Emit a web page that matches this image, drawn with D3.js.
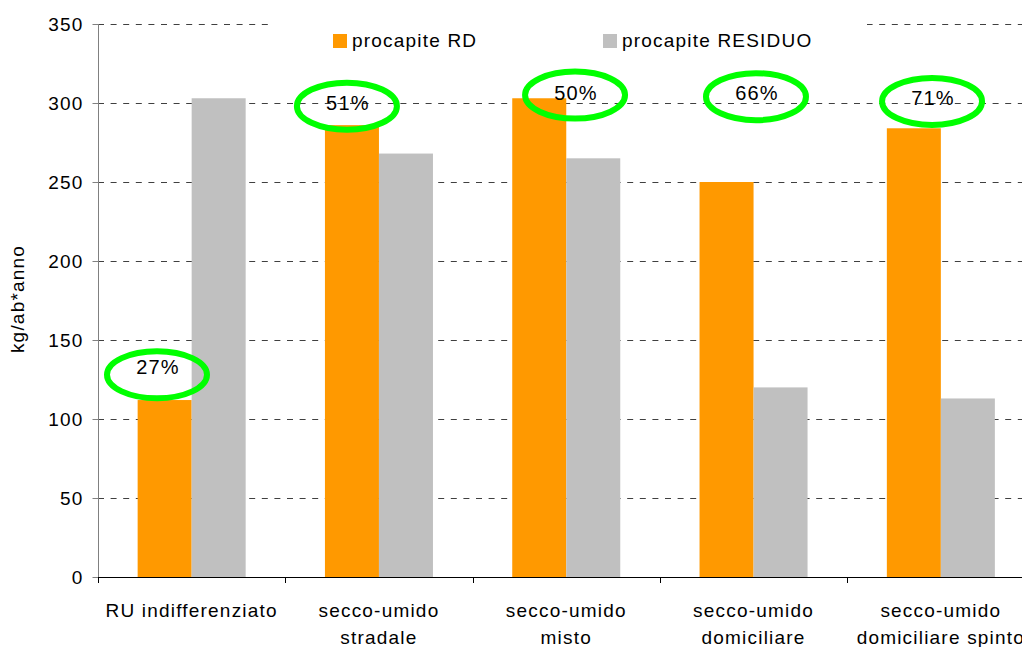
<!DOCTYPE html>
<html>
<head>
<meta charset="utf-8">
<script src="https://cdn.jsdelivr.net/npm/d3@7"></script>
<style>
  html, body { margin: 0; padding: 0; background: #ffffff; }
  svg { display: block; }
  text { font-family: "Liberation Sans", Arial, sans-serif; fill: #000; }
</style>
</head>
<body>
<svg id="chart" width="1022" height="647"></svg>
<script>
// ---- data ----
const categories = ["RU indifferenziato", "secco-umido stradale", "secco-umido misto", "secco-umido domiciliare", "secco-umido domiciliare spinto"];
const categoryLines = [["RU indifferenziato"], ["secco-umido", "stradale"], ["secco-umido", "misto"], ["secco-umido", "domiciliare"], ["secco-umido", "domiciliare spinto"]];
const seriesNames = ["procapite RD", "procapite RESIDUO"];
const rdValues = [112, 286, 303, 250, 284];
const residuoValues = [303, 268, 265, 120, 113];
const yTicks = [0, 50, 100, 150, 200, 250, 300, 350];
const pctLabels = ["27%", "51%", "50%", "66%", "71%"];
// annotation anchors (ellipse centre: fraction across the category band, value on y scale)
const pctAnchorFrac = [0.315, 0.329, 0.547, 0.513, 0.453];
const pctAnchorValue = [128, 298, 305, 304, 301];
const pctTextValue = [128.5, 295.6, 301.9, 301.9, 298.7];

const colors = ["#FF9900", "#C0C0C0"];

(function () {
// ---- layout ----
const svg = d3.select("#chart");
const plotLeft = 98, plotRight = 1034.5, plotTop = 24, plotBottom = 577;
const fontCss = "19px";
const ls = "1.2px";

const x0 = d3.scaleBand().domain(categories).range([plotLeft, plotRight]).paddingInner(0).paddingOuter(0);
const x1 = d3.scaleBand().domain(seriesNames).range([0, x0.bandwidth()]).paddingInner(0).paddingOuter(0.734);
const y = d3.scaleLinear().domain([0, 350]).range([plotBottom, plotTop]);

// gridlines
svg.append("g").selectAll("line")
  .data(yTicks.filter(d => d > 0))
  .join("line")
  .attr("x1", plotLeft).attr("x2", 1022)
  .attr("y1", d => Math.round(y(d)) + 0.5).attr("y2", d => Math.round(y(d)) + 0.5)
  .attr("stroke", "#404040").attr("stroke-width", 1)
  .attr("stroke-dasharray", "6,6.6");

// bars
const rows = categories.map((c, i) => ({cat: c, vals: [rdValues[i], residuoValues[i]]}));
const groups = svg.append("g").selectAll("g")
  .data(rows).join("g")
  .attr("transform", d => `translate(${x0(d.cat)},0)`);
groups.selectAll("rect")
  .data(d => d.vals.map((v, j) => ({s: seriesNames[j], v, j})))
  .join("rect")
  .attr("x", d => x1(d.s))
  .attr("width", x1.bandwidth())
  .attr("y", d => y(d.v))
  .attr("height", d => y(0) - y(d.v))
  .attr("fill", d => colors[d.j]);

// y axis
const yAxis = d3.axisLeft(y).tickValues(yTicks).tickSize(6).tickPadding(9).tickFormat(d3.format("d"));
const gy = svg.append("g").attr("transform", `translate(${plotLeft + 0.5},0)`).call(yAxis);
gy.select(".domain").attr("stroke", "#808080").attr("d", `M0,${plotTop}V${plotBottom}`);
gy.selectAll(".tick line").attr("stroke", "#808080");
gy.selectAll(".tick text").attr("font-size", fontCss).attr("font-family", "Liberation Sans, Arial, sans-serif")
  .style("letter-spacing", ls).attr("fill", "#000");

// x axis line + ticks at band boundaries
svg.append("line").attr("x1", plotLeft).attr("x2", 1022)
  .attr("y1", plotBottom + 0.5).attr("y2", plotBottom + 0.5).attr("stroke", "#000");
svg.append("g").selectAll("line")
  .data(categories)
  .join("line")
  .attr("x1", d => Math.round(x0(d)) + 0.5).attr("x2", d => Math.round(x0(d)) + 0.5)
  .attr("y1", plotBottom).attr("y2", plotBottom + 6)
  .attr("stroke", "#000");

// category labels
const catG = svg.append("g");
categories.forEach((c, i) => {
  const t = catG.append("text")
    .attr("text-anchor", "middle")
    .attr("font-size", fontCss)
    .style("letter-spacing", ls);
  categoryLines[i].forEach((line, k) => {
    t.append("tspan")
      .attr("x", x0(c) + x0.bandwidth() / 2)
      .attr("y", 617 + k * 27)
      .text(line);
  });
});

// y axis title
svg.append("text")
  .attr("transform", "translate(24,299) rotate(-90)")
  .attr("text-anchor", "middle")
  .attr("font-size", fontCss)
  .style("letter-spacing", ls)
  .text("kg/ab*anno");

// legend
svg.append("rect").attr("x", 268).attr("y", 14).attr("width", 599).attr("height", 44).attr("fill", "#fff");
const legendX = [333, 603];
seriesNames.forEach((s, i) => {
  svg.append("rect").attr("x", legendX[i]).attr("y", 34).attr("width", 14).attr("height", 14).attr("fill", colors[i]);
  svg.append("text").attr("x", legendX[i] + 19).attr("y", 47)
    .attr("font-size", fontCss).style("letter-spacing", ls).text(s);
});

// percentage annotations
const ann = svg.append("g");
categories.forEach((c, i) => {
  const cx = x0(c) + pctAnchorFrac[i] * x0.bandwidth();
  ann.append("ellipse")
    .attr("cx", cx).attr("cy", y(pctAnchorValue[i]))
    .attr("rx", 50).attr("ry", 23.5)
    .attr("fill", "none").attr("stroke", "#00FF00").attr("stroke-width", 6);
  ann.append("text")
    .attr("x", cx + 1).attr("y", y(pctTextValue[i]))
    .attr("text-anchor", "middle")
    .attr("font-size", "20px")
    .style("letter-spacing", ls)
    .text(pctLabels[i]);
});
})();
</script>
</body>
</html>
